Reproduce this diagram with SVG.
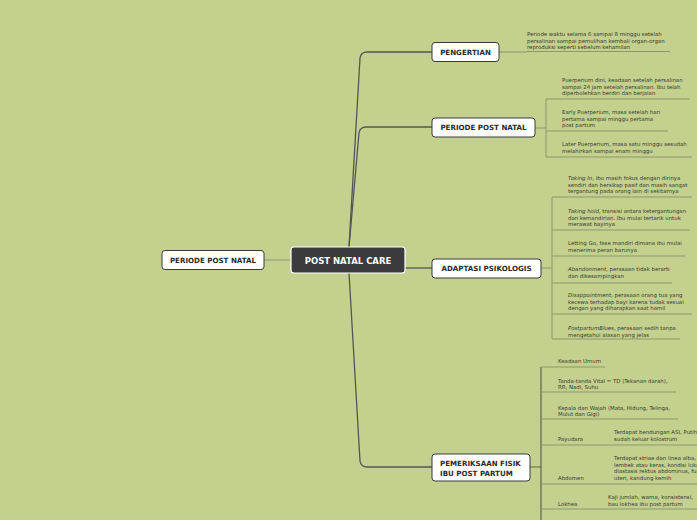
<svg xmlns="http://www.w3.org/2000/svg" width="697" height="520" viewBox="0 0 697 520">
<style>
.bg{fill:#c3d08e}
.node rect{fill:#ffffff;stroke:#3a3a3a;stroke-width:1}
.lbl{font-family:"DejaVu Sans",Verdana,sans-serif;font-weight:bold;font-size:7.1px;fill:#2a2a2a}
.root rect{fill:#3b3a3c;stroke:#ffffff;stroke-width:1.2}
.rootlbl{font-family:"DejaVu Sans",Verdana,sans-serif;font-weight:bold;font-size:8.5px;fill:#ffffff}
.t{font-family:"DejaVu Sans",Verdana,sans-serif;font-size:5.4px;fill:#3a3a30}
.i{font-style:italic}
.main{fill:none;stroke:#555555;stroke-width:1.3}
.sub{fill:none;stroke:#8b9868;stroke-width:1}
.dark{fill:none;stroke:#5e6352;stroke-width:1.2}
</style>
<rect class="bg" x="0" y="0" width="697" height="520"/>
<g id="connectors">
<path class="sub" d="M264,260 H291" style="stroke:#a3ad86;stroke-width:1.5"/>
<path class="main" d="M349,247 L360,58 Q361,52 367,52 H432"/>
<path class="main" d="M349,247 L359,133 Q360,127 366,127 H432"/>
<path class="main" d="M405,268 H432"/>
<path class="main" d="M349,273 L360,461 Q361,467 367,467 H432"/>
<path class="sub" d="M499,52 H527 M527,51.5 H670"/>
<path class="sub" d="M535,128 H546 M546,99 V157 M546,99 H690 M546,131 H668 M546,157 H692"/>
<path class="sub" d="M541,268 H552 M552,197 V339 M552,197 H692 M552,230 H690 M552,256 H685 M552,283 H672 M552,314 H692 M552,339 H680"/>
<path class="dark" d="M530,467 H541 M541,367 V520"/>
<path class="sub" d="M541,367 H605 M541,392 H676 M541,419 H678 M541,445 H697 M541,484 H697 M541,509 H697"/>
</g>
<g id="root" class="root">
<rect x="291" y="247" width="114" height="26" rx="3"/>
<text class="rootlbl" x="348" y="263.5" text-anchor="middle">POST NATAL CARE</text>
</g>
<g id="left-periode" class="node">
<rect x="162" y="250.5" width="102" height="19" rx="3"/>
<text class="lbl" x="213" y="262.5" text-anchor="middle">PERIODE POST NATAL</text>
</g>
<g id="pengertian" class="node">
<rect x="432" y="42.5" width="67" height="19" rx="3"/>
<text class="lbl" x="465.5" y="54.5" text-anchor="middle">PENGERTIAN</text>
</g>
<g id="pengertian-text">
<text class="t" x="527" y="36">Periode waktu selama 6 sampai 8 minggu setelah</text>
<text class="t" x="527" y="42.5">persalinan sampai pemulihan kembali organ-organ</text>
<text class="t" x="527" y="49">reproduksi seperti sebelum kehamilan</text>
</g>
<g id="periode" class="node">
<rect x="432" y="118" width="103" height="19" rx="3"/>
<text class="lbl" x="483.5" y="130" text-anchor="middle">PERIODE POST NATAL</text>
</g>
<g id="periode-1">
<text class="t" x="562" y="82">Puerperium dini, keadaan setelah persalinan</text>
<text class="t" x="562" y="88.5">sampai 24 jam setelah persalinan. Ibu telah</text>
<text class="t" x="562" y="95">diperbolehkan berdiri dan berjalan</text>
</g>
<g id="periode-2">
<text class="t" x="562" y="114">Early Puerperium, masa setelah hari</text>
<text class="t" x="562" y="120.5">pertama sampai minggu pertama</text>
<text class="t" x="562" y="127">post partum</text>
</g>
<g id="periode-3">
<text class="t" x="562" y="146">Later Puerperium, masa satu minggu sesudah</text>
<text class="t" x="562" y="152.5">melahirkan sampai enam minggu</text>
</g>
<g id="adaptasi" class="node">
<rect x="432" y="259" width="109" height="19" rx="3"/>
<text class="lbl" x="486.5" y="271" text-anchor="middle">ADAPTASI PSIKOLOGIS</text>
</g>
<g id="adaptasi-1">
<text class="t" x="568" y="180"><tspan class="i">Taking In</tspan>, ibu masih fokus dengan dirinya</text>
<text class="t" x="568" y="186.5">sendiri dan bersikap pasif dan masih sangat</text>
<text class="t" x="568" y="193">tergantung pada orang lain di sekitarnya</text>
</g>
<g id="adaptasi-2">
<text class="t" x="568" y="213"><tspan class="i">Taking hold</tspan>, transisi antara ketergantungan</text>
<text class="t" x="568" y="219.5">dan kemandirian. Ibu mulai tertarik untuk</text>
<text class="t" x="568" y="226">merawat bayinya</text>
</g>
<g id="adaptasi-3">
<text class="t" x="568" y="245">Letting Go, fase mandiri dimana ibu mulai</text>
<text class="t" x="568" y="251.5">menerima peran barunya</text>
</g>
<g id="adaptasi-4">
<text class="t" x="568" y="271"><tspan class="i">Abandonment</tspan>, perasaan tidak berarti</text>
<text class="t" x="568" y="277.5">dan dikesampingkan</text>
</g>
<g id="adaptasi-5">
<text class="t" x="568" y="297"><tspan class="i">Disappointment</tspan>, perasaan orang tua yang</text>
<text class="t" x="568" y="303.5">kecewa terhadap bayi karena tudak sesuai</text>
<text class="t" x="568" y="310">dengan yang diharapkan saat hamil</text>
</g>
<g id="adaptasi-6">
<text class="t" x="568" y="330"><tspan class="i">PostpartumBlues</tspan>, perasaan sedih tanpa</text>
<text class="t" x="568" y="336.5">mengetahui alasan yang jelas</text>
</g>
<g id="pemeriksaan" class="node">
<rect x="432" y="454" width="98" height="27" rx="3"/>
<text class="lbl" x="440" y="465.5">PEMERIKSAAN FISIK</text>
<text class="lbl" x="440" y="475.5">IBU POST PARTUM</text>
</g>
<g id="fisik-1">
<text class="t" x="558" y="363">Keadaan Umum</text>
</g>
<g id="fisik-2">
<text class="t" x="558" y="382.5">Tanda-tanda Vital = TD (Tekanan darah),</text>
<text class="t" x="558" y="389">RR, Nadi, Suhu</text>
</g>
<g id="fisik-3">
<text class="t" x="558" y="409.5">Kepala dan Wajah (Mata, Hidung, Telinga,</text>
<text class="t" x="558" y="416">Mulut dan Gigi)</text>
</g>
<g id="fisik-4">
<text class="t" x="558" y="441">Payudara</text>
<text class="t" x="614" y="434">Terdapat bendungan ASI, Putih</text>
<text class="t" x="614" y="440.5">sudah keluar kolostrum</text>
</g>
<g id="fisik-5">
<text class="t" x="558" y="480">Abdomen</text>
<text class="t" x="614" y="460">Terdapat striae dan linea alba,</text>
<text class="t" x="614" y="466.5">lembek atau keras, kondisi luka</text>
<text class="t" x="614" y="473">diastasis rektus abdominus, fundus</text>
<text class="t" x="614" y="479.5">uteri, kandung kemih</text>
</g>
<g id="fisik-6">
<text class="t" x="558" y="506">Lokhea</text>
<text class="t" x="608" y="499">Kaji jumlah, warna, konsistensi,</text>
<text class="t" x="608" y="505.5">bau lokhea ibu post partum</text>
</g>
</svg>
